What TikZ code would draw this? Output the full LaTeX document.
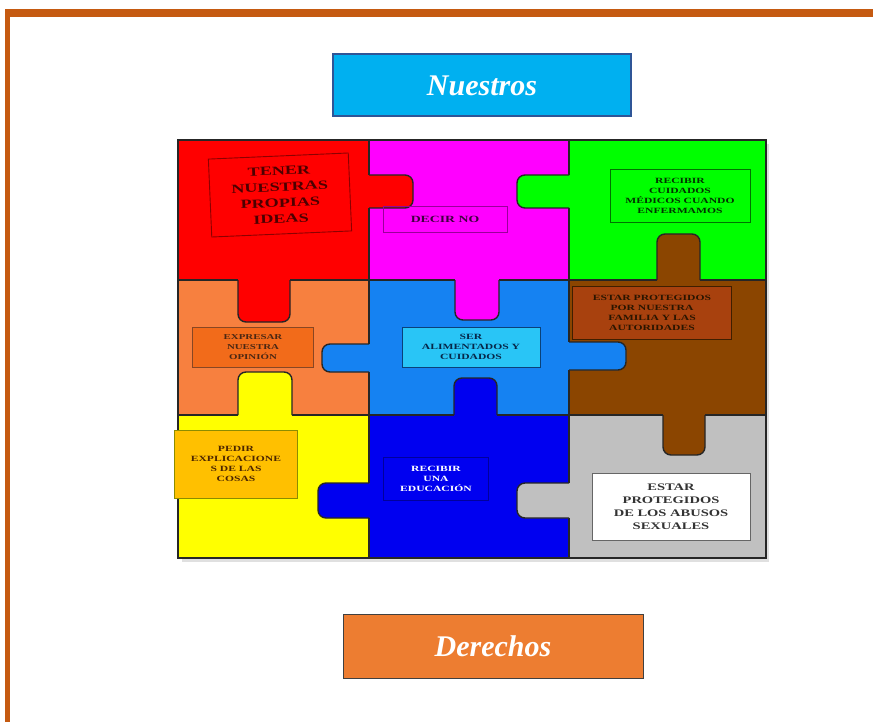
\documentclass[tikz,border=0pt]{standalone}
\usepackage{fontspec}
\setmainfont{Liberation Serif}
\newfontfamily\piecefont[FakeStretch=1.45]{Liberation Serif}
\usepackage{tikz}

\definecolor{frameorange}{HTML}{C55A11}
\definecolor{titleblue}{HTML}{00B0F0}
\definecolor{titleedge}{HTML}{2F5597}
\definecolor{titleorange}{HTML}{ED7D31}
\definecolor{pzred}{HTML}{FF0000}
\definecolor{pzmagenta}{HTML}{FF00FF}
\definecolor{pzgreen}{HTML}{00FF00}
\definecolor{pzorange}{HTML}{F7803F}
\definecolor{pzblue}{HTML}{1582F2}
\definecolor{pzbrown}{HTML}{8B4500}
\definecolor{pzyellow}{HTML}{FFFF00}
\definecolor{pzdarkblue}{HTML}{0000F0}
\definecolor{pzgray}{HTML}{C0C0C0}
\definecolor{cardorange}{HTML}{F26B1A}
\definecolor{cardcyan}{HTML}{29C5F6}
\definecolor{cardrust}{HTML}{A8410E}
\definecolor{cardgold}{HTML}{FFC000}

\tikzset{
  piece/.style={draw=black!85,line width=1.4pt},
  tabend/.style={piece,rounded corners=8pt},
  titlebox/.style={draw,minimum width=298,minimum height=62,text=white,
    font=\fontsize{30}{36}\selectfont\bfseries\itshape},
  cardbox/.style={draw,line width=0.9pt,align=center,inner sep=1pt,
    font=\piecefont\bfseries\fontsize{8}{10}\selectfont}
}

\begin{document}
\begin{tikzpicture}[x=1pt,y=-1pt]
\useasboundingbox (0,0) rectangle (873,722);
\fill[white] (0,0) rectangle (873,722);
\fill[frameorange] (5,9) rectangle (873,17);
\fill[frameorange] (5,9) rectangle (10,722);

\node[titlebox,fill=titleblue,draw=titleedge,line width=2pt] (nuestros) at (482,85.5) {Nuestros};
\node[titlebox,fill=titleorange,draw=black!75,line width=1pt,minimum width=300,minimum height=64] (derechos) at (493,646) {Derechos};

\fill[black!12] (182,144) rectangle (769,562);
\filldraw[piece,fill=pzred] (178,140) rectangle (369,280);
\filldraw[piece,fill=pzmagenta] (369,140) rectangle (569,280);
\filldraw[piece,fill=pzgreen] (569,140) rectangle (766,280);
\filldraw[piece,fill=pzorange] (178,280) rectangle (369,415);
\filldraw[piece,fill=pzblue] (369,280) rectangle (569,415);
\filldraw[piece,fill=pzbrown] (569,280) rectangle (766,415);
\filldraw[piece,fill=pzyellow] (178,415) rectangle (369,558);
\filldraw[piece,fill=pzdarkblue] (369,415) rectangle (569,558);
\filldraw[piece,fill=pzgray] (569,415) rectangle (766,558);

\fill[pzred] (364,175) rectangle (374,208);
\draw[tabend,fill=pzred] (369,175) -- (413,175) -- (413,208) -- (369,208);
\fill[pzred] (238,275) rectangle (290,285);
\draw[tabend,fill=pzred] (238,280) -- (238,322) -- (290,322) -- (290,280);
\fill[pzgreen] (564,175) rectangle (574,208);
\draw[tabend,fill=pzgreen] (569,175) -- (517,175) -- (517,208) -- (569,208);
\fill[pzmagenta] (455,275) rectangle (499,285);
\draw[tabend,fill=pzmagenta] (455,280) -- (455,320) -- (499,320) -- (499,280);
\fill[pzblue] (364,344) rectangle (374,372);
\draw[tabend,fill=pzblue] (369,344) -- (322,344) -- (322,372) -- (369,372);
\fill[pzblue] (564,342) rectangle (574,370);
\draw[tabend,fill=pzblue] (569,342) -- (626,342) -- (626,370) -- (569,370);
\fill[pzbrown] (657,275) rectangle (700,285);
\draw[tabend,fill=pzbrown] (657,280) -- (657,234) -- (700,234) -- (700,280);
\fill[pzyellow] (238,410) rectangle (292,420);
\draw[tabend,fill=pzyellow] (238,415) -- (238,372) -- (292,372) -- (292,415);
\fill[pzdarkblue] (454,410) rectangle (497,420);
\draw[tabend,fill=pzdarkblue] (454,415) -- (454,378) -- (497,378) -- (497,415);
\fill[pzdarkblue] (364,483) rectangle (374,518);
\draw[tabend,fill=pzdarkblue] (369,483) -- (318,483) -- (318,518) -- (369,518);
\fill[pzbrown] (663,410) rectangle (705,420);
\draw[tabend,fill=pzbrown] (663,415) -- (663,455) -- (705,455) -- (705,415);
\fill[pzgray] (564,483) rectangle (574,518);
\draw[tabend,fill=pzgray] (569,483) -- (517,483) -- (517,518) -- (569,518);

\node[cardbox,draw=black!45!pzred,text=black!70!pzred,rotate=2.5,minimum width=140,minimum height=78,
  font=\piecefont\bfseries\fontsize{12.5}{16}\selectfont] (ideas) at (280,195) {TENER\\NUESTRAS\\PROPIAS\\IDEAS};
\node[cardbox,draw=black!40!pzmagenta,text=black!75!pzmagenta,minimum width=124,minimum height=26,
  font=\piecefont\bfseries\fontsize{9.5}{11}\selectfont] (decir) at (445,219) {DECIR NO};
\node[cardbox,draw=black!55!pzgreen,text=black!80!pzgreen,minimum width=140,minimum height=53] (medicos) at (680,196) {RECIBIR\\CUIDADOS\\MÉDICOS CUANDO\\ENFERMAMOS};
\node[cardbox,fill=cardorange,draw=black!45!pzorange,text=black!70!pzorange,minimum width=121,minimum height=40,
  font=\piecefont\bfseries\fontsize{7.5}{10}\selectfont] (opinion) at (253,347) {EXPRESAR\\NUESTRA\\OPINIÓN};
\node[cardbox,fill=cardcyan,draw=black!50!pzblue,text=black!70!pzblue,minimum width=138,minimum height=40] (alimentados) at (471,347) {SER\\ALIMENTADOS Y\\CUIDADOS};
\node[cardbox,fill=cardrust,draw=black!55!pzbrown,text=black!70!pzbrown,minimum width=159,minimum height=53] (familia) at (652,313) {ESTAR PROTEGIDOS\\POR NUESTRA\\FAMILIA Y LAS\\AUTORIDADES};
\node[cardbox,fill=cardgold,draw=black!45!pzyellow,text=black!70!orange,minimum width=123,minimum height=68] (explicaciones) at (236,464) {PEDIR\\EXPLICACIONE\\S DE LAS\\COSAS};
\node[cardbox,draw=black!35!pzdarkblue,text=white,minimum width=105,minimum height=43] (educacion) at (436,479) {RECIBIR\\UNA\\EDUCACIÓN};
\node[cardbox,fill=white,draw=black!60,text=black!80,minimum width=158,minimum height=67,
  font=\piecefont\bfseries\fontsize{10}{13}\selectfont] (abusos) at (671,507) {ESTAR\\PROTEGIDOS\\DE LOS ABUSOS\\SEXUALES};
\end{tikzpicture}
\end{document}
